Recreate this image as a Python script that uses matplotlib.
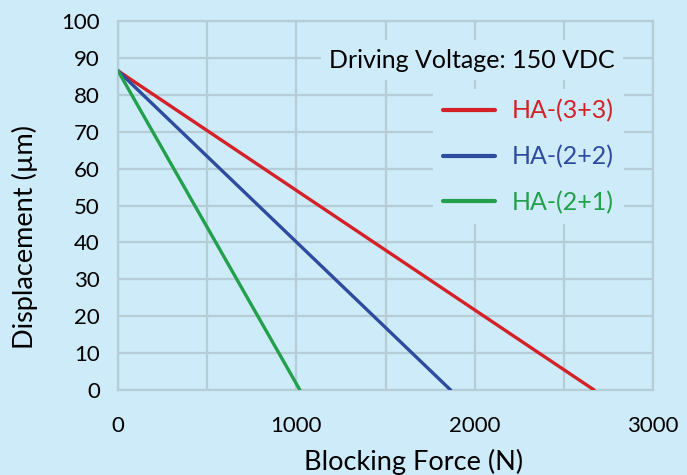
import matplotlib
matplotlib.use("Agg")
import matplotlib.pyplot as plt

plt.rcParams['font.family'] = ['Lato', 'DejaVu Sans']

# data
labels = ["HA-(3+3)", "HA-(2+2)", "HA-(2+1)"]
colors = ["#d42128", "#2e4c9f", "#22a04b"]
force = [[0, 2670], [0, 1865], [0, 1020]]
disp = [[86.5, 0], [86.5, 0], [86.5, 0]]
xticks = [0, 1000, 2000, 3000]
yticks = list(range(0, 101, 10))

bg = "#cdebf8"
gridc = "#b6ccd6"

fig = plt.figure(figsize=(6.87, 4.75), dpi=100, facecolor=bg)
ax = fig.add_axes([118/687, 85/475, 535/687, 369/475], facecolor=bg)

for f, d, c, lab in zip(force, disp, colors, labels):
    ax.plot(f, d, color=c, lw=2.4, label=lab, solid_capstyle='round', zorder=3)

ax.set_xlim(0, 3000)
ax.set_ylim(0, 100)
ax.set_xticks(xticks)
ax.set_yticks(yticks)
ax.set_xticks(range(0, 3001, 500), minor=True)
ax.grid(True, which='both', color=gridc, lw=1.6, zorder=0)
ax.tick_params(which='both', length=0)
ax.tick_params(axis='x', pad=19, labelsize=16)
ax.tick_params(axis='y', pad=13, labelsize=16)
for s in ax.spines.values():
    s.set_color(gridc)
    s.set_linewidth(1.6)

ax.set_xlabel("Blocking Force (N)", fontsize=19.5, va='center')
ax.set_ylabel("Displacement (µm)", fontsize=19.5, va='center')
ax.xaxis.set_label_coords(0.552, -0.195)
ax.yaxis.set_label_coords(-0.174, 0.415)

ax.text(0.929, 0.894, "Driving Voltage: 150 VDC", transform=ax.transAxes,
        ha='right', va='center', fontsize=18, zorder=4,
        bbox=dict(facecolor=bg, edgecolor='none', pad=6))

leg = ax.legend(loc='upper right', bbox_to_anchor=(0.945, 0.815), fontsize=18,
                frameon=True, facecolor=bg, edgecolor='none', framealpha=1,
                handlelength=2.1, handletextpad=0.65, labelspacing=0.9,
                borderpad=0.4, borderaxespad=0, fancybox=False)
for t, c in zip(leg.get_texts(), colors):
    t.set_color(c)
for h in leg.get_lines():
    h.set_linewidth(3)

fig.savefig("out.png", dpi=100, facecolor=bg)
